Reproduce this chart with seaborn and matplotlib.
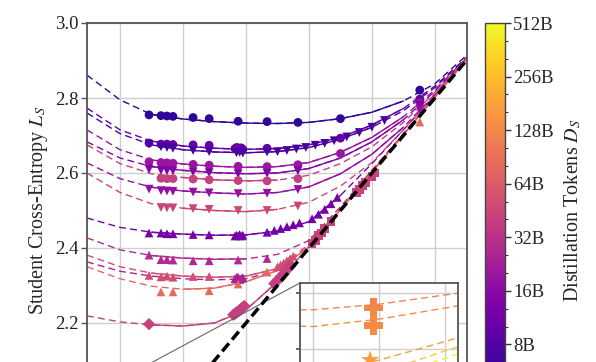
import numpy as np
import pandas as pd
import matplotlib
matplotlib.use("Agg")
import matplotlib.pyplot as plt
import seaborn as sns
from matplotlib.colors import LogNorm
from matplotlib.ticker import FixedLocator, NullFormatter

sns.set_theme(style="whitegrid")
plt.rcParams["font.family"] = ["Liberation Serif", "DejaVu Serif"]
plt.rcParams["mathtext.fontset"] = "stix"

# ---------------- data ----------------
FIT_X = [1.695, 1.8, 1.9, 2.0, 2.1, 2.2, 2.3, 2.4, 2.5, 2.6, 2.7, 2.8, 2.902]
FIT_X_LOW = [1.695, 1.8, 1.9, 2.0, 2.1, 2.2, 2.3, 2.4]
DIAG = [1.6, 3.0]

A_D = 5.5
A_fit = [2.861, 2.795, 2.756, 2.744, 2.737, 2.733, 2.732, 2.735, 2.745, 2.762, 2.792, 2.838, 2.915]
A_x = [1.892, 1.930, 1.949, 1.968, 2.032, 2.083, 2.175, 2.267, 2.365, 2.50, 2.752]
A_y = [2.755, 2.753, 2.752, 2.751, 2.748, 2.745, 2.738, 2.737, 2.735, 2.745, 2.821]

B_D = 10
B_fit = [2.773, 2.715, 2.685, 2.672, 2.666, 2.663, 2.665, 2.675, 2.695, 2.728, 2.772, 2.832, 2.909]
B_x = [1.892, 1.930, 1.949, 1.968, 2.032, 2.083, 2.165, 2.17, 2.175, 2.18, 2.185, 2.19, 2.267, 2.50, 2.752]
B_y = [2.680, 2.677, 2.677, 2.676, 2.675, 2.674, 2.665, 2.668, 2.667, 2.664, 2.667, 2.663, 2.666, 2.693, 2.797]

C_D = 7
C_fit = [2.760, 2.705, 2.675, 2.662, 2.656, 2.654, 2.657, 2.668, 2.690, 2.722, 2.766, 2.828, 2.908]
C_x = [1.892, 1.930, 1.949, 1.968, 2.032, 2.083, 2.17, 2.18, 2.19, 2.267, 2.30, 2.33, 2.36,
       2.39, 2.42, 2.45, 2.48, 2.52, 2.56, 2.60, 2.64]
C_y = [2.677, 2.670, 2.668, 2.666, 2.660, 2.657, 2.654, 2.655, 2.653, 2.656, 2.657, 2.660, 2.664,
       2.668, 2.674, 2.679, 2.686, 2.696, 2.708, 2.722, 2.740]

D_D = 20
D_fit = [2.715, 2.662, 2.635, 2.624, 2.618, 2.615, 2.617, 2.628, 2.655, 2.695, 2.750, 2.822, 2.908]
D_x = [1.892, 1.930, 1.949, 1.968, 2.032, 2.083, 2.175, 2.267, 2.365, 2.50, 2.752]
D_y = [2.630, 2.628, 2.627, 2.626, 2.623, 2.621, 2.618, 2.617, 2.622, 2.652, 2.787]

E_D = 14
E_fit = [2.683, 2.640, 2.617, 2.607, 2.601, 2.598, 2.600, 2.612, 2.640, 2.683, 2.742, 2.818, 2.907]
E_x = [1.892, 1.930, 1.949, 1.968, 2.032, 2.083, 2.175, 2.267, 2.365, 2.752]
E_y = [2.610, 2.607, 2.606, 2.606, 2.603, 2.601, 2.598, 2.599, 2.606, 2.781]

F_D = 40
F_fit = [2.675, 2.625, 2.598, 2.588, 2.582, 2.579, 2.581, 2.594, 2.625, 2.670, 2.735, 2.815, 2.907]
F_x = [1.930, 1.949, 1.968, 2.032, 2.083, 2.175, 2.267, 2.365]
F_y = [2.586, 2.585, 2.585, 2.584, 2.582, 2.580, 2.579, 2.585]

G_D = 18
G_fit = [2.627, 2.585, 2.562, 2.552, 2.547, 2.544, 2.548, 2.563, 2.598, 2.650, 2.722, 2.810, 2.906]
G_x = [1.892, 1.930, 1.949, 1.968, 2.032, 2.083, 2.175, 2.267, 2.365, 2.752]
G_y = [2.557, 2.553, 2.552, 2.551, 2.549, 2.547, 2.545, 2.546, 2.556, 2.768]

H_D = 45
H_fit = [2.600, 2.548, 2.518, 2.506, 2.500, 2.497, 2.503, 2.522, 2.565, 2.628, 2.715, 2.808, 2.906]
H_x = [1.930, 1.949, 1.968, 2.032, 2.083, 2.175, 2.267, 2.365]
H_y = [2.508, 2.507, 2.507, 2.505, 2.503, 2.500, 2.500, 2.512]

I_D = 12
I_fit = [2.480, 2.455, 2.442, 2.437, 2.434, 2.435, 2.445, 2.470, 2.540, 2.625, 2.715, 2.808, 2.905]
I_x = [1.892, 1.930, 1.949, 1.968, 2.032, 2.083, 2.165, 2.17, 2.175, 2.18, 2.185, 2.19, 2.267,
       2.29, 2.31, 2.33, 2.35, 2.37, 2.41, 2.43, 2.45, 2.47, 2.49]
I_y = [2.440, 2.440, 2.438, 2.438, 2.436, 2.435, 2.432, 2.434, 2.433, 2.436, 2.432, 2.434, 2.442,
       2.447, 2.452, 2.457, 2.462, 2.467, 2.478, 2.490, 2.503, 2.518, 2.535]

J_D = 28
J_fit = [2.427, 2.395, 2.380, 2.373, 2.370, 2.371, 2.383, 2.420, 2.510, 2.607, 2.705, 2.804, 2.905]
J_x = [1.892, 1.930, 1.949, 1.968, 2.032, 2.083, 2.175, 2.267]
J_y = [2.381, 2.369, 2.369, 2.368, 2.366, 2.366, 2.368, 2.372]

K_D = 50
K_fit = [2.381, 2.350, 2.333, 2.325, 2.322, 2.325, 2.345, 2.410, 2.505, 2.604, 2.703, 2.803, 2.905]
K_x = [1.892, 1.930, 1.949, 1.968, 2.032, 2.083, 2.175, 2.30, 2.31, 2.32, 2.33, 2.34, 2.35]
K_y = [2.327, 2.323, 2.325, 2.322, 2.324, 2.324, 2.323, 2.350, 2.355, 2.360, 2.366, 2.372, 2.378]

L_D = 24
L_fit = [2.363, 2.338, 2.325, 2.318, 2.315, 2.318, 2.340, 2.405, 2.503, 2.603, 2.703, 2.803, 2.905]
L_x = [2.165, 2.17, 2.175, 2.18, 2.185, 2.19]
L_y = [2.318, 2.322, 2.320, 2.316, 2.319, 2.321]

M_D = 80
M_fit = [2.350, 2.318, 2.298, 2.290, 2.293, 2.310, 2.340, 2.403, 2.502, 2.602, 2.702, 2.802, 2.904]
M_x = [1.930, 1.968, 2.083, 2.175, 2.267, 2.752]
M_y = [2.283, 2.283, 2.286, 2.304, 2.336, 2.736]

N_D = 40
N_fit = [2.219, 2.203, 2.195, 2.192, 2.200, 2.235, 2.310, 2.403, 2.502, 2.602, 2.702, 2.802, 2.904]
N_x = [1.892, 2.16, 2.165, 2.17, 2.175, 2.18, 2.185, 2.19, 2.195, 2.29, 2.30, 2.31, 2.32, 2.33, 2.34]
N_y = [2.197, 2.222, 2.225, 2.228, 2.231, 2.234, 2.238, 2.242, 2.245, 2.305, 2.314, 2.323, 2.332, 2.342, 2.352]

# clumps of points lying along the diagonal (no fit drawn)
Q_D = 42
Q_x = [2.41, 2.42, 2.43, 2.44, 2.45, 2.47, 2.55, 2.56, 2.57, 2.58, 2.60, 2.61]
Q_y = [2.412, 2.421, 2.433, 2.440, 2.452, 2.470, 2.548, 2.556, 2.566, 2.574, 2.590, 2.600]

P1_D = 125
P1_fit = [2.075, 2.071, 2.071, 2.074, 2.079, 2.084, 2.088, 2.093]
P1_x = [1.991]
P1_y = [2.072]

P2_D = 135
P2_fit = [2.068, 2.063, 2.062, 2.066, 2.072, 2.078, 2.083, 2.088]
P2_x = [1.991]
P2_y = [2.0625]

S1_D = 170
S1_fit = [2.040, 2.037, 2.038, 2.044, 2.054, 2.065, 2.077, 2.090]
S1_x = [1.986]
S1_y = [2.044]

S2_D = 300
S2_fit = [2.035, 2.030, 2.030, 2.037, 2.049, 2.060, 2.072, 2.085]
S3_D = 480
S3_fit = [2.030, 2.025, 2.025, 2.033, 2.045, 2.057, 2.070, 2.083]

CB_TICKS = [8, 16, 32, 64, 128, 256, 512]
CB_LABELS = ["8B", "16B", "32B", "64B", "128B", "256B", "512B"]
Y_TICKS = [2.2, 2.4, 2.6, 2.8, 3.0]
X_GRID = [1.8, 2.0, 2.2, 2.4, 2.6, 2.8]

curves = [
    ("A", "o", A_D, FIT_X, A_fit, A_x, A_y),
    ("B", "o", B_D, FIT_X, B_fit, B_x, B_y),
    ("C", "v", C_D, FIT_X, C_fit, C_x, C_y),
    ("D", "o", D_D, FIT_X, D_fit, D_x, D_y),
    ("E", "v", E_D, FIT_X, E_fit, E_x, E_y),
    ("F", "o", F_D, FIT_X, F_fit, F_x, F_y),
    ("G", "v", G_D, FIT_X, G_fit, G_x, G_y),
    ("H", "v", H_D, FIT_X, H_fit, H_x, H_y),
    ("I", "^", I_D, FIT_X, I_fit, I_x, I_y),
    ("J", "^", J_D, FIT_X, J_fit, J_x, J_y),
    ("K", "^", K_D, FIT_X, K_fit, K_x, K_y),
    ("L", "^", L_D, FIT_X, L_fit, L_x, L_y),
    ("M", "^", M_D, FIT_X, M_fit, M_x, M_y),
    ("N", "D", N_D, FIT_X, N_fit, N_x, N_y),
    ("Q", "s", Q_D, [], [], Q_x, Q_y),
    ("P1", "P", P1_D, FIT_X_LOW, P1_fit, P1_x, P1_y),
    ("P2", "P", P2_D, FIT_X_LOW, P2_fit, P2_x, P2_y),
    ("S1", "*", S1_D, FIT_X_LOW, S1_fit, S1_x, S1_y),
    ("S2", "*", S2_D, FIT_X_LOW, S2_fit, [], []),
    ("S3", "*", S3_D, FIT_X_LOW, S3_fit, [], []),
]

# ---------------- tables ----------------
fit_rows, solid_rows, pt_rows = [], [], []
for name, mk, D, fx, fy, px, py in curves:
    for x, y in zip(fx, fy):
        fit_rows.append(dict(curve=name, x=x, y=y, D=D * 1e9))
        if px and min(px) - 0.01 <= x <= max(px) + 0.01:
            solid_rows.append(dict(curve=name, x=x, y=y, D=D * 1e9))
    for x, y in zip(px, py):
        pt_rows.append(dict(curve=name, x=x, y=y, D=D * 1e9, marker=mk))
fit_df = pd.DataFrame(fit_rows)
solid_df = pd.DataFrame(solid_rows)
pt_df = pd.DataFrame(pt_rows)
diag_df = pd.DataFrame(dict(x=DIAG, y=DIAG))

norm = LogNorm(vmin=4e9, vmax=512e9)
cmap = plt.get_cmap("plasma")
marker_map = {m: m for m in pt_df["marker"].unique()}

# ---------------- figure ----------------
W, H = 596, 362
fig = plt.figure(figsize=(W / 100, H / 100), dpi=100)
ax = fig.add_axes([87 / W, 1 - 398 / H, 380 / W, 375 / H])


def draw(a, msize, lw):
    sns.lineplot(data=fit_df, x="x", y="y", hue="D", units="curve", estimator=None,
                 hue_norm=norm, palette="plasma", legend=False, ax=a, sort=False,
                 linewidth=lw, linestyle=(0, (5, 3)), zorder=2)
    sns.lineplot(data=solid_df, x="x", y="y", hue="D", units="curve", estimator=None,
                 hue_norm=norm, palette="plasma", legend=False, ax=a, sort=False,
                 linewidth=lw, zorder=2.5)
    sns.scatterplot(data=pt_df, x="x", y="y", hue="D", hue_norm=norm, palette="plasma",
                    style="marker", markers=marker_map, s=msize, linewidth=0,
                    legend=False, ax=a, zorder=3)


draw(ax, 40, 1.0)
sns.lineplot(data=diag_df, x="x", y="y", color="black", linewidth=2.5,
             linestyle=(0, (3, 1.4)), ax=ax, zorder=5)

ax.set_xlim(1.695, 2.902)
ax.set_ylim(2.0, 3.0)
ax.set_xticks(X_GRID)
ax.set_yticks(Y_TICKS)
ax.set_yticklabels([f"{t:.1f}" for t in Y_TICKS])
ax.set_xlabel("")
ax.set_ylabel("Student Cross-Entropy $L_S$", fontsize=14.5, labelpad=4)
ax.grid(True, color="#cfcfcf", linewidth=1.0)
for s in ax.spines.values():
    s.set_color("#555555")
    s.set_linewidth(1.3)
ax.tick_params(axis="y", which="major", left=True, length=4, width=1, color="#555555",
               labelsize=13.5, pad=2, labelcolor="#222222")
ax.tick_params(axis="x", bottom=True, length=4, labelbottom=False)

# ---------------- inset ----------------
axins = ax.inset_axes([0.5605, 0.0267, 0.4158, 0.28])
draw(axins, 190, 1.0)
axins.set_xlim(1.880, 2.119)
axins.set_ylim(2.029, 2.0854)
axins.set_xticks([1.9, 2.0, 2.1])
axins.set_yticks([2.05, 2.08])
axins.tick_params(labelleft=False, labelbottom=False, left=True, bottom=True,
                  length=3, color="#555555")
axins.set_xlabel("")
axins.set_ylabel("")
axins.grid(True, color="#cfcfcf", linewidth=1.0)
axins.set_facecolor("white")
for s in axins.spines.values():
    s.set_color("#555555")
    s.set_linewidth(1.3)
ind = ax.indicate_inset_zoom(axins, edgecolor="#555555", linewidth=0.8, alpha=0.9)

# ---------------- colorbar ----------------
cax = fig.add_axes([485 / W, 1 - 398 / H, 20 / W, 375 / H])
sm = matplotlib.cm.ScalarMappable(norm=norm, cmap=cmap)
cb = fig.colorbar(sm, cax=cax)
cb.set_ticks([t * 1e9 for t in CB_TICKS])
cb.set_ticklabels(CB_LABELS)
minor = []
for t in [4, 8, 16, 32, 64, 128, 256]:
    minor += [t * 2 ** (1 / 3) * 1e9, t * 2 ** (2 / 3) * 1e9]
cax.yaxis.set_minor_locator(FixedLocator(minor))
cax.yaxis.set_minor_formatter(NullFormatter())
cax.tick_params(which="major", length=4, width=1, labelsize=13.5, pad=2, color="#333333")
cax.tick_params(which="minor", length=2.5, width=0.8, color="#333333")
cb.outline.set_edgecolor("#444444")
cb.outline.set_linewidth(1.0)
cb.set_label("Distillation Tokens $D_S$", fontsize=14.5, labelpad=6)

fig.savefig("out.png", dpi=100)
